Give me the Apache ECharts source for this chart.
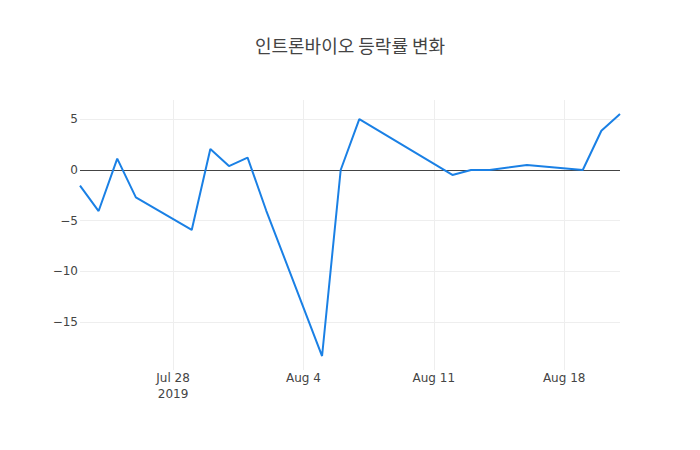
<!DOCTYPE html>
<html>
<head>
<meta charset="utf-8">
<script src="https://cdn.jsdelivr.net/npm/echarts@6/dist/echarts.min.js"></script>
<style>
html,body{margin:0;padding:0;background:#fff;}
#chart{width:700px;height:450px;}
</style>
</head>
<body>
<div id="chart"></div>
<script>
const titleText = '인트론바이오 등락률 변화';
const dates = ['2019-07-23','2019-07-24','2019-07-25','2019-07-26','2019-07-29','2019-07-30','2019-07-31','2019-08-01','2019-08-02','2019-08-05','2019-08-06','2019-08-07','2019-08-12','2019-08-13','2019-08-14','2019-08-16','2019-08-19','2019-08-20','2019-08-21'];
const changeRate = [-1.55,-4.05,1.12,-2.7,-5.92,2.07,0.39,1.22,-4.0,-18.36,0.0,5.03,-0.49,0.0,0.0,0.49,0.0,3.88,5.53];
const xTickDates = ['2019-07-28','2019-08-04','2019-08-11','2019-08-18'];
const xTickLabels = ['Jul 28\n2019','Aug 4','Aug 11','Aug 18'];
const yTicks = [-15,-10,-5,0,5];
const yRange = [-19.74, 6.91];

const DAY = 86400000;
const refDay = Date.UTC(2019,6,28);
function dayOffset(s){const p=s.split('-');return (Date.UTC(+p[0],+p[1]-1,+p[2])-refDay)/DAY;}
const xs = dates.map(dayOffset);
const tickOffsets = xTickDates.map(dayOffset);
const seriesData = xs.map((x,i)=>[x,changeRate[i]]);

// plot box
const W=700,H=450,L=80,R=80,T=100,B=80;
const pw=W-L-R, ph=H-T-B;
const xMin=xs[0], xMax=xs[xs.length-1];
const xStep=7, yStep=5;
// tick axes start at a multiple of the step, extended outside plot box so scales match
const xTickMin=Math.floor(xMin/xStep)*xStep;
const xPx=pw/(xMax-xMin);
const yTickMin=Math.floor(yRange[0]/yStep)*yStep;
const yPx=ph/(yRange[1]-yRange[0]);

const tickFont='DejaVu Sans';
const hidden={show:false};
const chart = echarts.init(document.getElementById('chart'), null, {renderer:'svg'});
chart.setOption({
  animation:false,
  backgroundColor:'#fff',
  title:{
    text:titleText,
    left:'center',
    top:31,
    textStyle:{fontFamily:'Noto Sans CJK KR',fontSize:18,fontWeight:'normal',color:'#444'}
  },
  grid:[
    {left:L,right:R,top:T,bottom:B},
    {left:L-(xMin-xTickMin)*xPx,right:R,top:T,bottom:B},
    {left:L,right:R,top:T,bottom:B-(yRange[0]-yTickMin)*yPx}
  ],
  xAxis:[
    {type:'value',gridIndex:0,min:xMin,max:xMax,axisLine:hidden,axisTick:hidden,axisLabel:hidden,splitLine:hidden},
    {type:'value',gridIndex:1,min:xTickMin,max:xMax,interval:xStep,
      axisLine:hidden,axisTick:hidden,
      axisLabel:{showMinLabel:false,showMaxLabel:false,margin:0,
        fontFamily:tickFont,fontSize:12,color:'#444',lineHeight:16,
        formatter:function(v){const i=tickOffsets.indexOf(v);return i>=0?xTickLabels[i]:'';}},
      splitLine:{show:true,showMinLine:false,showMaxLine:false,lineStyle:{color:'#eee',width:1}}},
    {type:'value',gridIndex:2,min:0,max:1,show:false}
  ],
  yAxis:[
    {type:'value',gridIndex:0,min:yRange[0],max:yRange[1],axisLine:hidden,axisTick:hidden,axisLabel:hidden,splitLine:hidden},
    {type:'value',gridIndex:1,min:0,max:1,show:false},
    {type:'value',gridIndex:2,min:yTickMin,max:yRange[1],interval:yStep,
      axisLine:hidden,axisTick:hidden,
      axisLabel:{showMinLabel:false,showMaxLabel:false,margin:2,
        fontFamily:tickFont,fontSize:12,color:'#444',
        formatter:function(v){return yTicks.indexOf(v)>=0?String(v).replace('-','\u2212'):'';}},
      splitLine:{show:true,showMinLine:false,showMaxLine:false,lineStyle:{color:'#eee',width:1}}}
  ],
  series:[{
    type:'line',
    xAxisIndex:0,yAxisIndex:0,
    data:seriesData,
    symbol:'none',
    lineStyle:{color:'#1a80e5',width:2},
    itemStyle:{color:'#1a80e5'},
    z:3,
    markLine:{
      silent:true,
      symbol:['none','none'],
      label:{show:false},
      lineStyle:{color:'#444',width:1,type:'solid'},
      data:[{yAxis:0}],
      z:2
    }
  }]
});
</script>
</body>
</html>
